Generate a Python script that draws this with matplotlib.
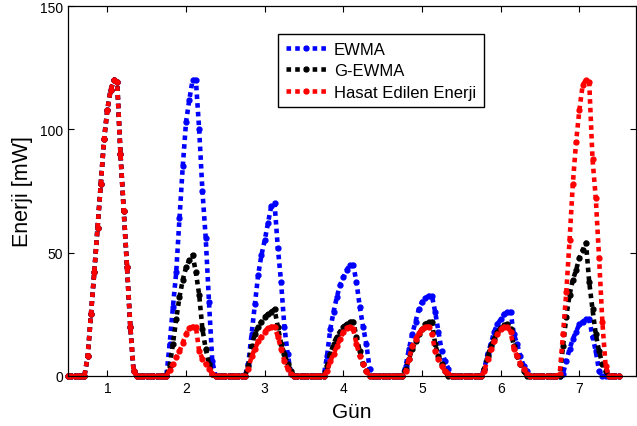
import numpy as np
import matplotlib
matplotlib.use("Agg")
import matplotlib.pyplot as plt

plt.rcParams['font.family'] = ['Liberation Sans', 'DejaVu Sans']

# hours of each day where energy is non-zero (outside this window: 0)
win_hours = list(range(5, 22))
days = [1, 2, 3, 4, 5, 6, 7]

ewma = [
    [0, 8, 25, 42, 60, 78, 96, 108, 116, 120, 119, 90, 67, 44, 20, 2, 0],
    [0, 0, 13, 28, 42, 64, 85, 103, 112, 120, 120, 100, 75, 56, 30, 6, 0],
    [0, 0, 5, 17, 29, 41, 49, 55, 62, 69, 70, 52, 38, 20, 9, 1, 0],
    [0, 0, 8, 19, 26, 32, 37, 40, 43, 45, 45, 38, 28, 20, 13, 3, 0],
    [0, 0, 4, 11, 17, 22, 27, 30, 31.5, 32.5, 32.5, 26, 18, 10, 6, 3, 0],
    [0, 0, 3, 9, 13, 18, 21, 23, 25, 26, 26, 17, 13, 8, 4, 2, 0],
    [0, 0, 1, 6, 11, 15, 18, 21, 22, 23, 23, 16, 10, 2, 0, 0, 0],
]
g_ewma = [
    [0, 8, 25, 42, 60, 78, 96, 108, 116, 120, 119, 90, 67, 44, 20, 2, 0],
    [0, 0, 4, 13, 23, 32, 39, 44, 47, 49, 42, 33, 19, 11, 5, 1, 0],
    [0, 0, 4, 12, 17, 20, 22, 24, 25, 26, 27, 20, 13, 9, 5, 2, 0],
    [0, 0, 4, 9, 13, 16, 18, 20, 21, 22, 22, 16, 10, 5, 2, 0, 0],
    [0, 0, 3, 7, 11, 14, 17, 19, 21, 22, 22, 13, 8, 5, 2, 0, 0],
    [0, 0, 3, 8, 12, 15, 18, 19.5, 20.5, 21, 19, 12, 8, 5, 2, 0, 0],
    [0, 0, 12, 24, 33, 39, 43, 48, 51, 54, 38, 27, 17, 10, 5, 2, 0],
]
harvest = [
    [0, 8, 25, 42, 60, 78, 96, 108, 116, 120, 119, 90, 67, 44, 20, 2, 0],
    [0, 0, 2.5, 5, 7.5, 10, 13.5, 17, 19.5, 20, 20, 10, 7, 5, 3, 1, 0],
    [0, 0, 3, 8, 11, 14, 16, 18, 19.5, 20, 20, 16, 11, 6, 3, 1, 0],
    [0, 0, 2, 6, 9, 12, 15, 18, 19.5, 20, 19, 13, 8, 5, 2, 0, 0],
    [0, 0, 2, 7, 12, 15, 17.5, 19, 20, 20, 17, 10, 7, 4, 2, 1, 0],
    [0, 0, 2, 7, 11, 14, 17, 19, 20, 20, 18, 11, 8, 5, 3, 1, 0],
    [0, 1, 17, 34, 55, 78, 95, 108, 118, 120, 119, 88, 72, 48, 22, 4, 0],
]


def build(series):
    xs, ys = [], []
    for d, vals in zip(days, series):
        for h in range(24):
            xs.append(d - 0.5 + h / 24)
            ys.append(vals[win_hours.index(h)] if h in win_hours else 0)
    xs.append(days[-1] + 0.5)
    ys.append(0)
    return np.array(xs), np.array(ys)


fig = plt.figure(figsize=(6.37, 4.27), dpi=100)
ax = fig.add_axes([0.1068, 0.1171, 0.8917, 0.8665])

styles = [(ewma, 'EWMA', (0, 0, 1)),
          (g_ewma, 'G-EWMA', 'black'),
          (harvest, 'Hasat Edilen Enerji', (1, 0, 0))]
for data, label, color in styles:
    x, y = build(data)
    ax.plot(x, y, linestyle=(0, (1, 0.9)), linewidth=3.3, color=color,
            marker='.', markersize=7, label=label, clip_on=False)

ax.set_xlim(0.5, 7.72)
ax.set_ylim(0, 150)
ax.set_xticks(days)
ax.set_yticks([0, 50, 100, 150])
ax.tick_params(direction='in', top=True, right=True, length=4,
               labelsize=10, width=0.8)
for s in ax.spines.values():
    s.set_linewidth(0.9)
ax.set_xlabel('Gün', fontsize=15, labelpad=5)
ax.set_ylabel('Enerji [mW]', fontsize=15.5, labelpad=5)

leg = ax.legend(loc='upper left', bbox_to_anchor=(0.37, 0.924), fontsize=12,
                fancybox=False, framealpha=1, edgecolor='black',
                handlelength=2.4, borderpad=0.45, labelspacing=0.4,
                handletextpad=0.5, borderaxespad=0)
leg.get_frame().set_linewidth(1.0)

fig.savefig('out.png', dpi=100)
